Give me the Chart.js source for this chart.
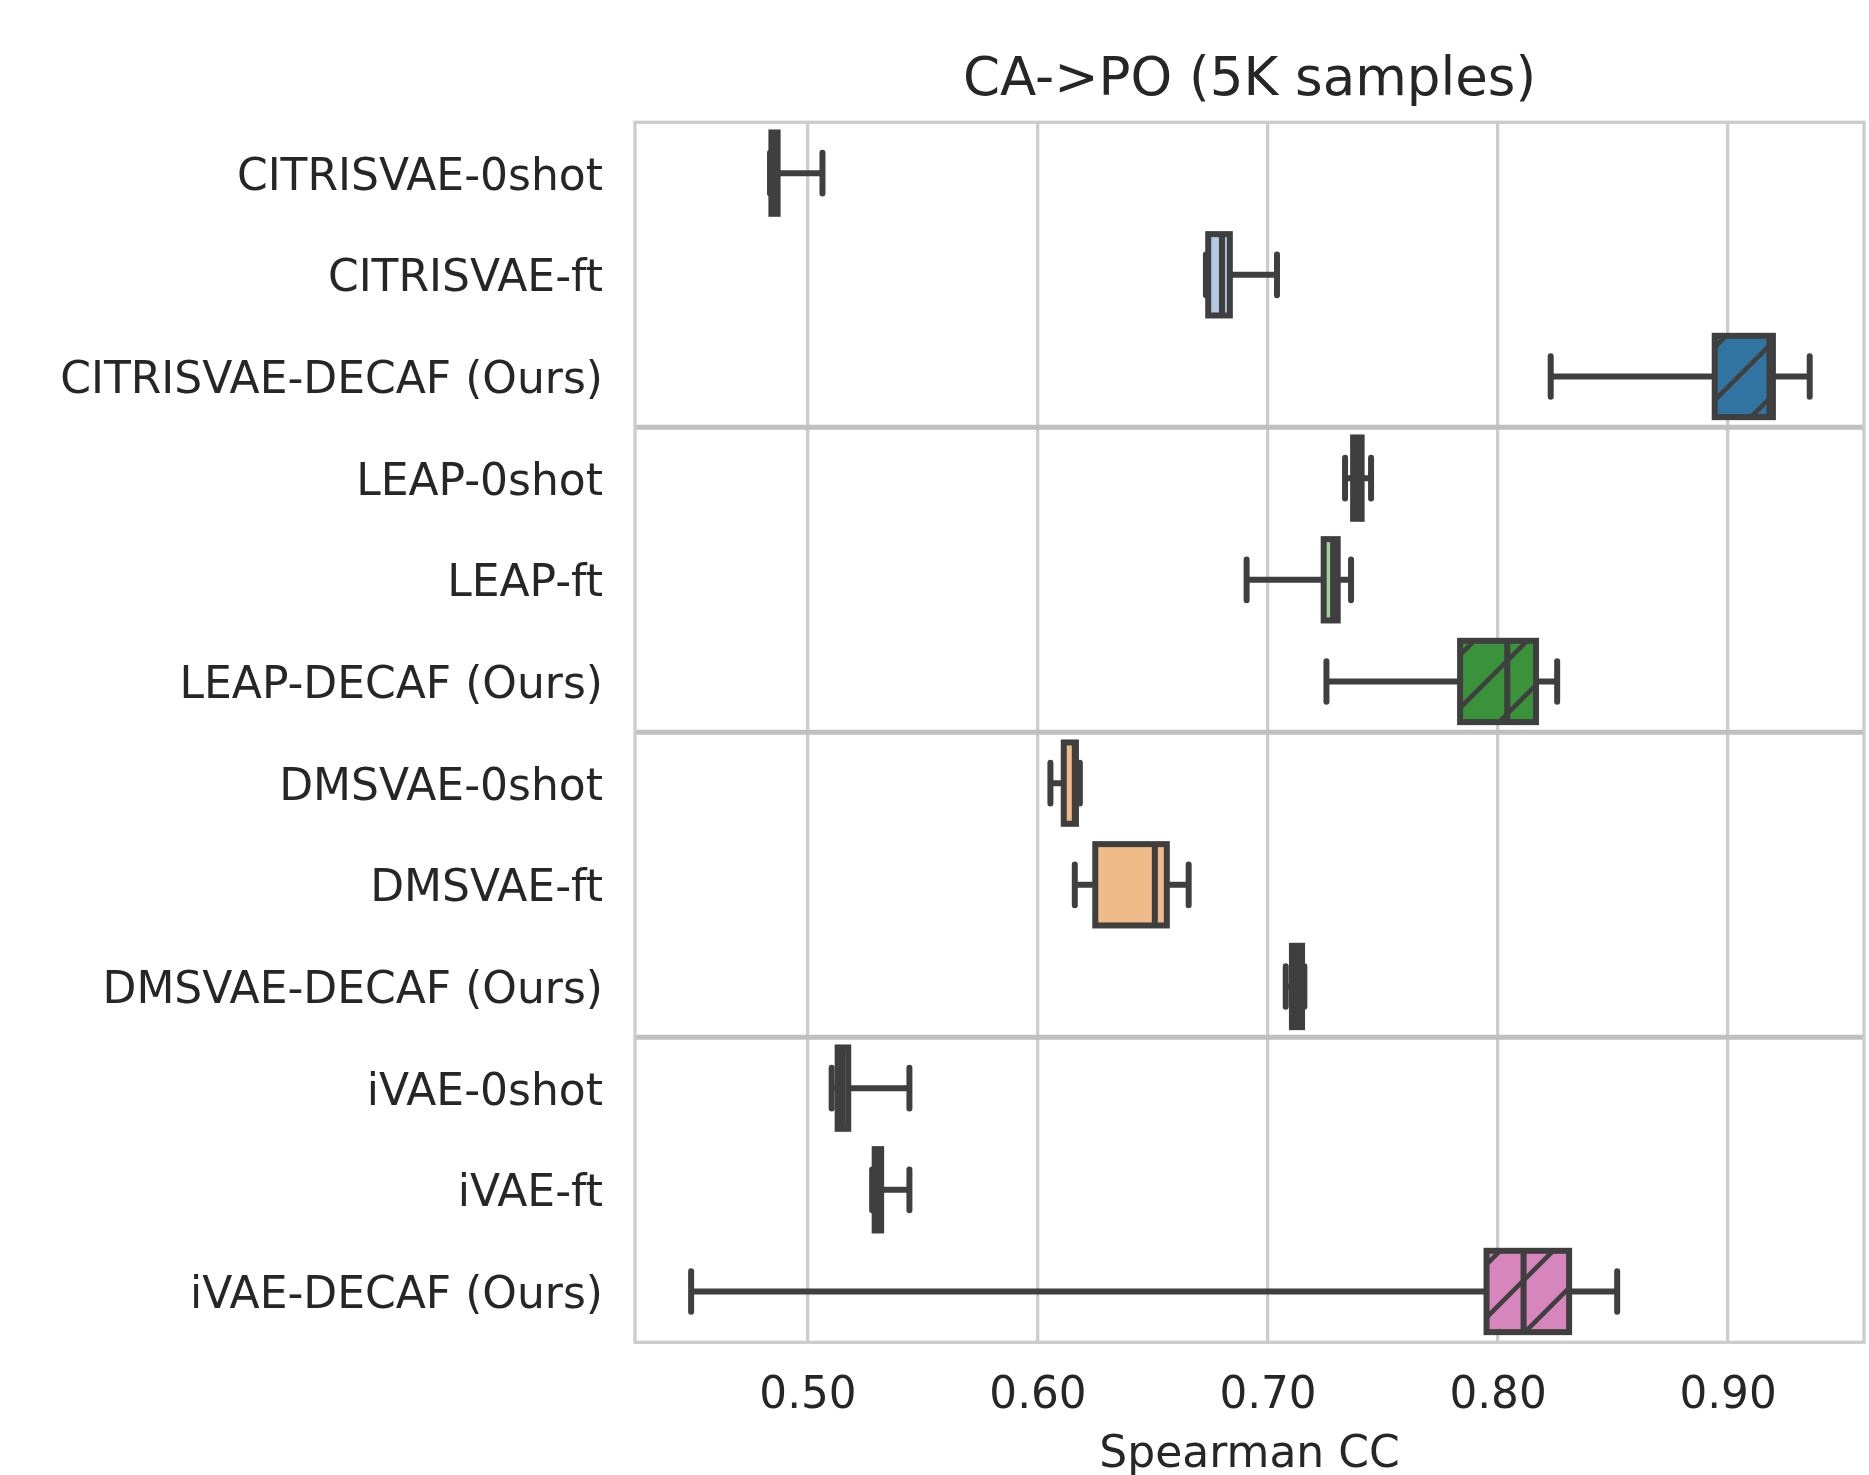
<!DOCTYPE html>
<html>
<head>
<meta charset="utf-8">
<script src="https://cdn.jsdelivr.net/npm/chart.js@4.4.1/dist/chart.umd.min.js"></script>
<style>
  html, body { margin: 0; padding: 0; background: #ffffff; }
  #wrap { width: 1869px; height: 1475px; position: relative; }
  canvas { display: block; }
</style>
</head>
<body>
<div id="wrap"><canvas id="chart" width="1869" height="1475" style="width:1869px;height:1475px"></canvas></div>
<script>
// ---------------- data ----------------
const categories = [
  'CITRISVAE-0shot', 'CITRISVAE-ft', 'CITRISVAE-DECAF (Ours)',
  'LEAP-0shot', 'LEAP-ft', 'LEAP-DECAF (Ours)',
  'DMSVAE-0shot', 'DMSVAE-ft', 'DMSVAE-DECAF (Ours)',
  'iVAE-0shot', 'iVAE-ft', 'iVAE-DECAF (Ours)'
];
const families = [
  'CITRISVAE', 'CITRISVAE', 'CITRISVAE',
  'LEAP', 'LEAP', 'LEAP',
  'DMSVAE', 'DMSVAE', 'DMSVAE',
  'iVAE', 'iVAE', 'iVAE'
];
const lowerWhisker = [0.4835, 0.6730, 0.8229, 0.7335, 0.6907, 0.7254, 0.6054, 0.6160, 0.7077, 0.5103, 0.5279, 0.4492];
const q1Values     = [0.4841, 0.6740, 0.8942, 0.7370, 0.7242, 0.7835, 0.6112, 0.6249, 0.7104, 0.5129, 0.5290, 0.7950];
const medianValues = [0.4855, 0.6800, 0.9180, 0.7390, 0.7283, 0.8040, 0.6160, 0.6508, 0.7125, 0.5150, 0.5305, 0.8111];
const q3Values     = [0.4868, 0.6834, 0.9195, 0.7407, 0.7303, 0.8165, 0.6165, 0.6560, 0.7148, 0.5175, 0.5318, 0.8309];
const upperWhisker = [0.5063, 0.7039, 0.9355, 0.7448, 0.7361, 0.8257, 0.6182, 0.6655, 0.7158, 0.5441, 0.5441, 0.8518];
const boxColors = [
  '#b5c8e1', '#b5c8e1', '#3274a1',
  '#9fd495', '#9fd495', '#3a923a',
  '#eebb89', '#eebb89', '#e1812c',
  '#efbed3', '#efbed3', '#d685bd'
];
const hatched = [false, false, true, false, false, true, false, false, true, false, false, true];
const xTicks = [0.50, 0.60, 0.70, 0.80, 0.90];
const xMin = 0.4248;
const xMax = 0.9591;
const chartTitle = 'CA->PO (5K samples)';
const xAxisTitle = 'Spearman CC';

// ---------------- style ----------------
const TEXT = '#262626';
const EDGE = '#3f3f3f';
const FONT = "'DejaVu Sans', 'Liberation Sans', sans-serif";
Chart.defaults.font.family = FONT;
Chart.defaults.color = TEXT;

const boxPlugin = {
  id: 'boxplotDraw',
  beforeDatasetsDraw(chart) {
    const { ctx, chartArea: a, scales: { y } } = chart;
    ctx.save();
    // group separators
    ctx.strokeStyle = '#c0c0c0';
    ctx.lineWidth = 5;
    for (let i = 1; i < categories.length; i++) {
      if (families[i] !== families[i - 1]) {
        const yy = (y.getPixelForValue(i - 1) + y.getPixelForValue(i)) / 2;
        ctx.beginPath();
        ctx.moveTo(a.left, yy);
        ctx.lineTo(a.right, yy);
        ctx.stroke();
      }
    }
    // spines
    ctx.strokeStyle = '#cccccc';
    ctx.lineWidth = 3.3;
    ctx.strokeRect(a.left, a.top, a.right - a.left, a.bottom - a.top);
    ctx.restore();
  },
  afterDatasetsDraw(chart) {
    const { ctx, scales: { x, y } } = chart;
    const meta = chart.getDatasetMeta(0);
    ctx.save();
    meta.data.forEach((bar, i) => {
      const cy = y.getPixelForValue(i);
      const h = bar.height;
      const top = cy - h / 2, bot = cy + h / 2;
      const x1 = x.getPixelForValue(q1Values[i]);
      const x3 = x.getPixelForValue(q3Values[i]);
      const xm = x.getPixelForValue(medianValues[i]);
      const xl = x.getPixelForValue(lowerWhisker[i]);
      const xu = x.getPixelForValue(upperWhisker[i]);

      // hatch
      if (hatched[i]) {
        ctx.save();
        ctx.beginPath();
        ctx.rect(x1, top, x3 - x1, h);
        ctx.clip();
        ctx.strokeStyle = EDGE;
        ctx.lineWidth = 4.5;
        const P = 53, phase = 48;
        const kStart = Math.floor((x1 + top - phase) / P) - 1;
        const kEnd = Math.ceil((x3 + bot - phase) / P) + 1;
        for (let k = kStart; k <= kEnd; k++) {
          const s = k * P + phase;
          ctx.beginPath();
          ctx.moveTo(s - bot - 10, bot + 10);
          ctx.lineTo(s - top + 10, top - 10);
          ctx.stroke();
        }
        ctx.restore();
      }

      ctx.strokeStyle = EDGE;
      ctx.lineWidth = 6;
      // whiskers
      ctx.lineCap = 'butt';
      ctx.beginPath();
      ctx.moveTo(x1, cy); ctx.lineTo(xl, cy);
      ctx.moveTo(x3, cy); ctx.lineTo(xu, cy);
      ctx.stroke();
      // caps
      ctx.lineCap = 'round';
      ctx.beginPath();
      ctx.moveTo(xl, cy - h / 4); ctx.lineTo(xl, cy + h / 4);
      ctx.moveTo(xu, cy - h / 4); ctx.lineTo(xu, cy + h / 4);
      ctx.stroke();
      // box outline
      ctx.lineCap = 'butt';
      ctx.lineJoin = 'miter';
      ctx.strokeRect(x1, top, x3 - x1, h);
      // median
      ctx.beginPath();
      ctx.moveTo(xm, top); ctx.lineTo(xm, bot);
      ctx.stroke();
    });
    ctx.restore();
  }
};

new Chart(document.getElementById('chart'), {
  type: 'bar',
  data: {
    labels: categories,
    datasets: [{
      data: q1Values.map((v, i) => [v, q3Values[i]]),
      backgroundColor: boxColors,
      borderWidth: 0,
      borderSkipped: false,
      barPercentage: 0.8,
      categoryPercentage: 1.0
    }]
  },
  options: {
    indexAxis: 'y',
    responsive: false,
    devicePixelRatio: 1,
    animation: false,
    layout: { padding: { left: 0, right: 5, top: 0, bottom: 0 } },
    plugins: {
      legend: { display: false },
      tooltip: { enabled: false },
      title: {
        display: true,
        text: chartTitle,
        fullSize: false,
        color: TEXT,
        font: { size: 53, weight: 'normal', lineHeight: 1.2 },
        padding: { top: 49.5, bottom: 9.2 }
      }
    },
    scales: {
      x: {
        type: 'linear',
        position: 'bottom',
        min: xMin,
        max: xMax,
        afterBuildTicks: (scale) => { scale.ticks = xTicks.map(v => ({ value: v })); },
        afterFit: (scale) => { scale.height = 132.7; },
        ticks: {
          callback: (v) => Number(v).toFixed(2),
          font: { size: 43.7 },
          color: TEXT,
          padding: 28,
          maxRotation: 0,
          autoSkip: false
        },
        grid: { color: '#cccccc', lineWidth: 3.3, drawTicks: false },
        border: { display: false },
        title: {
          display: true,
          text: xAxisTitle,
          color: TEXT,
          font: { size: 44, lineHeight: 0.87 },
          padding: { top: 0, bottom: 0 }
        }
      },
      y: {
        position: 'left',
        afterFit: (scale) => { scale.width = 635; },
        ticks: {
          font: { size: 44 },
          color: TEXT,
          padding: 32,
          labelOffset: 5,
          autoSkip: false
        },
        grid: { display: false, drawTicks: false },
        border: { display: false }
      }
    }
  },
  plugins: [boxPlugin]
});
</script>
</body>
</html>
